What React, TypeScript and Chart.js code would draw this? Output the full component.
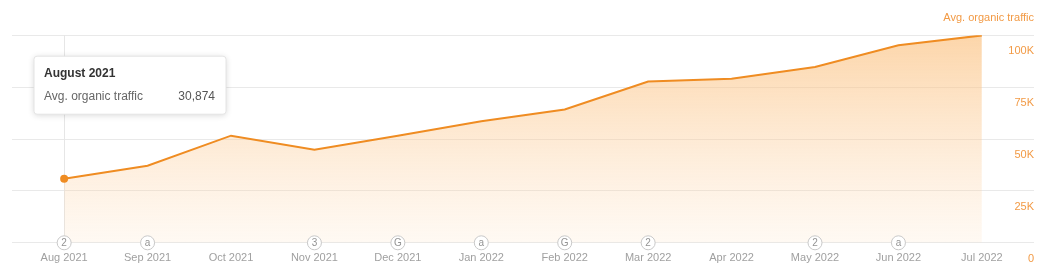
import { useEffect, useRef } from 'react';
import { Chart, registerables } from 'chart.js';

Chart.register(...registerables);

const months = ['Aug 2021', 'Sep 2021', 'Oct 2021', 'Nov 2021', 'Dec 2021', 'Jan 2022', 'Feb 2022', 'Mar 2022', 'Apr 2022', 'May 2022', 'Jun 2022', 'Jul 2022'];
const monthTitles = ['August 2021', 'September 2021', 'October 2021', 'November 2021', 'December 2021', 'January 2022', 'February 2022', 'March 2022', 'April 2022', 'May 2022', 'June 2022', 'July 2022'];
const traffic = [30874, 37100, 51600, 44800, 51600, 58600, 64200, 77700, 79000, 84700, 95200, 99900];
const markers = ['2', 'a', '', '3', 'G', 'a', 'G', '2', '', '2', 'a', ''];
const yTicks = [0, 25000, 50000, 75000, 100000];
const seriesName = 'Avg. organic traffic';
const activeIndex = 0;

const FONT = 'Arial, "Liberation Sans", sans-serif';
const ORANGE = '#ef8c22';
const LABEL_ORANGE = '#f29a45';

const overlayPlugin = {
  id: 'overlay',
  beforeDatasetsDraw(chart: any) {
    const ca = chart.chartArea;
    const pt = chart.getDatasetMeta(0).data[activeIndex];
    if (!pt) return;
    const ctx = chart.ctx;
    ctx.save();
    ctx.strokeStyle = '#e6e6e6';
    ctx.lineWidth = 1;
    ctx.beginPath();
    const x = Math.round(pt.x) + 0.5;
    ctx.moveTo(x, ca.top);
    ctx.lineTo(x, ca.bottom);
    ctx.stroke();
    ctx.restore();
  },
  afterDraw(chart: any) {
    const ca = chart.chartArea;
    const ctx = chart.ctx;
    const xs = chart.scales.x;
    // markers on the axis
    ctx.save();
    markers.forEach((m, i) => {
      if (!m) return;
      const x = xs.getPixelForValue(i);
      const y = ca.bottom;
      ctx.beginPath();
      ctx.arc(x, y, 7, 0, Math.PI * 2);
      ctx.fillStyle = '#ffffff';
      ctx.fill();
      ctx.strokeStyle = '#c8c8c8';
      ctx.lineWidth = 1;
      ctx.stroke();
      ctx.fillStyle = '#939393';
      ctx.font = `10px ${FONT}`;
      ctx.textAlign = 'center';
      ctx.textBaseline = 'middle';
      ctx.fillText(m, x, y + 0.5);
    });
    ctx.restore();

    // fixed tooltip
    const bx = ca.left + 22;
    const by = ca.top + 21;
    const bw = 192;
    const bh = 58;
    ctx.save();
    ctx.shadowColor = 'rgba(0,0,0,0.16)';
    ctx.shadowBlur = 6;
    ctx.shadowOffsetY = 1;
    ctx.beginPath();
    ctx.roundRect(bx, by, bw, bh, 3);
    ctx.fillStyle = '#ffffff';
    ctx.fill();
    ctx.shadowColor = 'transparent';
    ctx.strokeStyle = '#e4e4e4';
    ctx.lineWidth = 1;
    ctx.stroke();
    ctx.textBaseline = 'middle';
    ctx.textAlign = 'left';
    ctx.fillStyle = '#333333';
    ctx.font = `bold 12px ${FONT}`;
    ctx.fillText(monthTitles[activeIndex], bx + 10, by + 17);
    ctx.font = `12px ${FONT}`;
    ctx.fillStyle = '#666666';
    ctx.fillText(seriesName, bx + 10, by + 40);
    ctx.textAlign = 'right';
    ctx.fillStyle = '#555555';
    ctx.fillText(traffic[activeIndex].toLocaleString('en-US'), bx + bw - 11, by + 40);
    ctx.restore();
  },
};

export default function App() {
  const ref = useRef<HTMLCanvasElement | null>(null);
  useEffect(() => {
    if (!ref.current) return;
    const chart = new Chart(ref.current, {
      type: 'line',
      data: {
        datasets: [
          {
            label: seriesName,
            data: traffic.map((v, i) => ({ x: i, y: v })),
            borderColor: ORANGE,
            borderWidth: 2,
            tension: 0,
            fill: 'origin',
            backgroundColor: (c: any) => {
              const ca = c.chart.chartArea;
              if (!ca) return 'rgba(252,200,140,0.4)';
              const g = c.chart.ctx.createLinearGradient(0, ca.top, 0, ca.bottom);
              g.addColorStop(0, 'rgba(251,192,125,0.66)');
              g.addColorStop(1, 'rgba(253,215,175,0.15)');
              return g;
            },
            pointRadius: (c: any) => (c.dataIndex === activeIndex ? 4 : 0),
            pointHoverRadius: (c: any) => (c.dataIndex === activeIndex ? 4 : 0),
            pointBackgroundColor: ORANGE,
            pointBorderWidth: 0,
          },
        ],
      },
      options: {
        animation: false,
        responsive: true,
        maintainAspectRatio: false,
        events: [],
        layout: { padding: { left: 3, right: 9, top: 0, bottom: -7 } },
        plugins: {
          legend: { display: false },
          tooltip: { enabled: false },
          title: {
            display: true,
            text: seriesName,
            align: 'end',
            color: LABEL_ORANGE,
            font: { family: FONT, size: 11, weight: 'normal' },
            padding: { top: 3, bottom: 11 },
          },
        },
        scales: {
          x: {
            type: 'linear',
            min: -0.625,
            max: months.length - 1 + 0.625,
            afterBuildTicks: (s: any) => {
              s.ticks = months.map((_, i) => ({ value: i }));
            },
            grid: { display: false, drawTicks: false },
            border: { display: false },
            ticks: {
              autoSkip: false,
              maxRotation: 0,
              padding: 9,
              color: '#a0a0a0',
              font: { family: FONT, size: 11 },
              callback: (v: any) => months[v] ?? '',
            },
          },
          y: {
            position: 'right',
            min: 0,
            max: 100000,
            afterBuildTicks: (s: any) => {
              s.ticks = yTicks.map((v) => ({ value: v }));
            },
            grid: { color: '#e9e9e9', drawTicks: false },
            border: { display: false },
            ticks: {
              mirror: true,
              padding: 0,
              labelOffset: 16,
              color: LABEL_ORANGE,
              font: { family: FONT, size: 11 },
              callback: (v: any) => (v === 0 ? '0' : `${v / 1000}K`),
            },
          },
        },
      },
      plugins: [overlayPlugin],
    });
    return () => chart.destroy();
  }, []);
  return (
    <div style={{ position: 'relative', width: '100%', height: 259 }}>
      <canvas ref={ref} />
    </div>
  );
}
